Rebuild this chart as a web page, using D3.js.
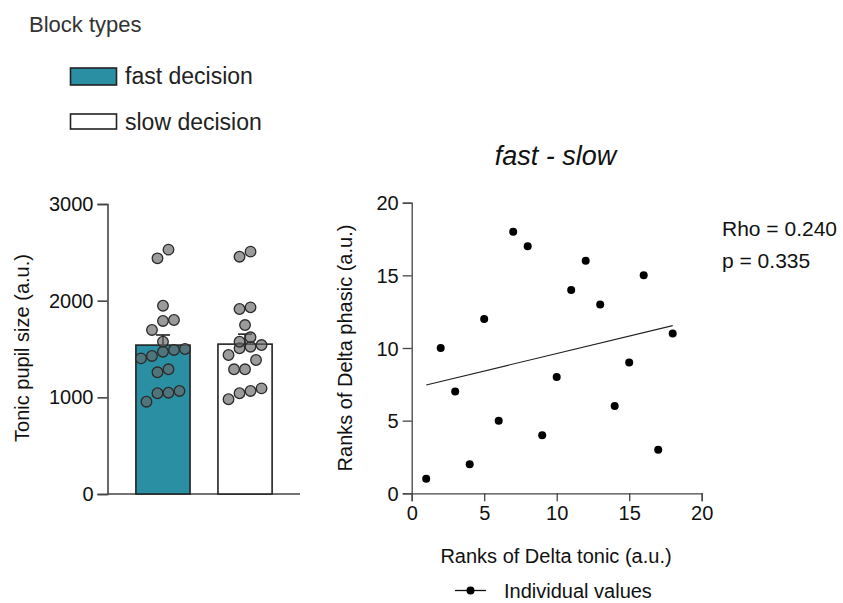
<!DOCTYPE html>
<html><head><meta charset="utf-8">
<script src="https://cdn.jsdelivr.net/npm/d3@7"></script>
<style>body{margin:0;background:#fff}svg{display:block;font-family:"Liberation Sans",Arial,sans-serif}</style>
</head><body><svg id="c" width="843" height="603"></svg>
<script>
// ---------- data ----------
const blockTypes = ["fast decision", "slow decision"];
const fastValues = [2528, 2438, 1948, 1790, 1800, 1697, 1575, 1490, 1472, 1500, 1428, 1403, 1259, 1290, 1066, 1048, 1042, 955];
const slowValues = [2507, 2455, 1931, 1914, 1748, 1621, 1575, 1541, 1524, 1507, 1438, 1386, 1290, 1290, 1093, 1066, 1042, 980];
const barTicks = [0, 1000, 2000, 3000];
const rankTonic  = [1, 2, 3, 4, 5, 6, 7, 8, 9, 10, 11, 12, 13, 14, 15, 16, 17, 18];
const rankPhasic = [1, 10, 7, 2, 12, 5, 18, 17, 4, 8, 14, 16, 13, 6, 9, 15, 3, 11];
const rankTicks = [0, 5, 10, 15, 20];
const statsText = ["Rho = 0.240", "p = 0.335"];

const svg = d3.select("#c");
const teal = "#2a8fa3", ink = "#222";

// ---------- legend ----------
svg.append("text").attr("x", 29).attr("y", 32).attr("font-size", 22).attr("fill", "#333").text("Block types");
const legFill = [teal, "#fff"];
blockTypes.forEach((b, i) => {
  const y0 = 68 + i * 46;
  svg.append("rect").attr("x", 70.5).attr("y", y0).attr("width", 46).attr("height", 17 - i * 2)
    .attr("fill", legFill[i]).attr("stroke", ink).attr("stroke-width", 1.6);
  svg.append("text").attr("x", 125).attr("y", y0 + 16).attr("font-size", 23).attr("fill", "#222").text(b);
});

// ---------- bar chart ----------
const xb = d3.scaleBand().domain(blockTypes).range([108, 300]).padding(0.34);
const yb = d3.scaleLinear().domain([0, 3000]).range([494, 204]);
const groups = [fastValues, slowValues];

const gAxL = svg.append("g").attr("transform", "translate(107.5,0)")
  .call(d3.axisLeft(yb).tickValues(barTicks).tickSize(10).tickPadding(4).tickFormat(d3.format("d")));
gAxL.select(".domain").attr("stroke", "#444").attr("stroke-width", 1.6);
gAxL.selectAll(".tick line").attr("stroke", "#444").attr("stroke-width", 1.6);
gAxL.selectAll("text").attr("font-size", 20).attr("fill", "#111").attr("font-family", "Liberation Sans, Arial");

svg.append("line").attr("x1", 107).attr("x2", 300).attr("y1", yb(0)).attr("y2", yb(0))
  .attr("stroke", "#444").attr("stroke-width", 1.6);

groups.forEach((vals, i) => {
  const mean = d3.mean(vals), sem = d3.deviation(vals) / Math.sqrt(vals.length);
  const cx = xb(blockTypes[i]) + xb.bandwidth() / 2;
  svg.append("rect").attr("x", xb(blockTypes[i])).attr("y", yb(mean))
    .attr("width", xb.bandwidth()).attr("height", yb(0) - yb(mean))
    .attr("fill", legFill[i]).attr("stroke", ink).attr("stroke-width", 1.6);
  svg.append("line").attr("x1", cx).attr("x2", cx).attr("y1", yb(mean)).attr("y2", yb(mean + sem))
    .attr("stroke", ink).attr("stroke-width", 1.6);
  svg.append("line").attr("x1", cx - 7).attr("x2", cx + 7).attr("y1", yb(mean + sem)).attr("y2", yb(mean + sem))
    .attr("stroke", ink).attr("stroke-width", 1.6);

  // row-based swarm layout
  const diam = 11;
  const sorted = vals.map((v, k) => ({ v, k })).sort((a, b) => a.v - b.v);
  const rows = [];
  sorted.forEach(p => {
    const last = rows[rows.length - 1];
    if (last && yb(last[0].v) - yb(p.v) < diam) last.push(p); else rows.push([p]);
  });
  const pts = [];
  rows.forEach(r => r.forEach((p, j) => pts.push({ v: p.v, x: cx + (j - (r.length - 1) / 2) * diam })));
  svg.append("g").selectAll("circle").data(pts).join("circle")
    .attr("cx", d => d.x).attr("cy", d => yb(d.v)).attr("r", 5.3)
    .attr("fill", "#666").attr("fill-opacity", 0.65).attr("stroke", "#2a2a2a").attr("stroke-width", 1.3);
});

svg.append("text").attr("transform", "translate(29,348) rotate(-90)").attr("text-anchor", "middle")
  .attr("font-size", 20).attr("fill", "#111").text("Tonic pupil size (a.u.)");

// ---------- scatter ----------
const xs = d3.scaleLinear().domain([0, 20]).range([411.7, 701.7]);
const ys = d3.scaleLinear().domain([0, 20]).range([493.3, 202.7]);

const gx = svg.append("g").attr("transform", `translate(0,${ys(0)})`)
  .call(d3.axisBottom(xs).tickValues(rankTicks).tickSize(8).tickPadding(5));
const gy = svg.append("g").attr("transform", `translate(${xs(0)},0)`)
  .call(d3.axisLeft(ys).tickValues(rankTicks).tickSize(9).tickPadding(4));
[gx, gy].forEach(g => {
  g.select(".domain").attr("stroke", "#444").attr("stroke-width", 1.3);
  g.selectAll(".tick line").attr("stroke", "#444").attr("stroke-width", 1.3);
  g.selectAll("text").attr("font-size", 20).attr("fill", "#111").attr("font-family", "Liberation Sans, Arial");
});
gy.selectAll("text").attr("dy", "0.36em");

// regression line (least squares on ranks)
const mx = d3.mean(rankTonic), my = d3.mean(rankPhasic);
const slope = d3.sum(rankTonic, (x, i) => (x - mx) * (rankPhasic[i] - my)) / d3.sum(rankTonic, x => (x - mx) ** 2);
const x0 = d3.min(rankTonic), x1 = d3.max(rankTonic);
svg.append("line").attr("x1", xs(x0)).attr("x2", xs(x1))
  .attr("y1", ys(my + slope * (x0 - mx))).attr("y2", ys(my + slope * (x1 - mx)))
  .attr("stroke", "#222").attr("stroke-width", 1.2);

svg.append("g").selectAll("circle").data(rankTonic).join("circle")
  .attr("cx", d => xs(d)).attr("cy", (d, i) => ys(rankPhasic[i])).attr("r", 4).attr("fill", "#000");

svg.append("text").attr("x", 555.5).attr("y", 165).attr("text-anchor", "middle").attr("font-size", 27)
  .attr("font-style", "italic").attr("fill", "#111").text("fast - slow");
statsText.forEach((t, i) => svg.append("text").attr("x", 722).attr("y", 236 + i * 32)
  .attr("font-size", 21).attr("fill", "#111").text(t));

svg.append("text").attr("transform", "translate(352,348) rotate(-90)").attr("text-anchor", "middle")
  .attr("font-size", 20).attr("fill", "#111").text("Ranks of Delta phasic (a.u.)");
svg.append("text").attr("x", 556).attr("y", 563).attr("text-anchor", "middle")
  .attr("font-size", 20).attr("fill", "#111").text("Ranks of Delta tonic (a.u.)");

svg.append("line").attr("x1", 455).attr("x2", 486).attr("y1", 590.5).attr("y2", 590.5).attr("stroke", "#111").attr("stroke-width", 1.3);
svg.append("circle").attr("cx", 470.5).attr("cy", 590.5).attr("r", 4).attr("fill", "#000");
svg.append("text").attr("x", 504).attr("y", 598).attr("font-size", 20).attr("fill", "#111").text("Individual values");
</script></body></html>
